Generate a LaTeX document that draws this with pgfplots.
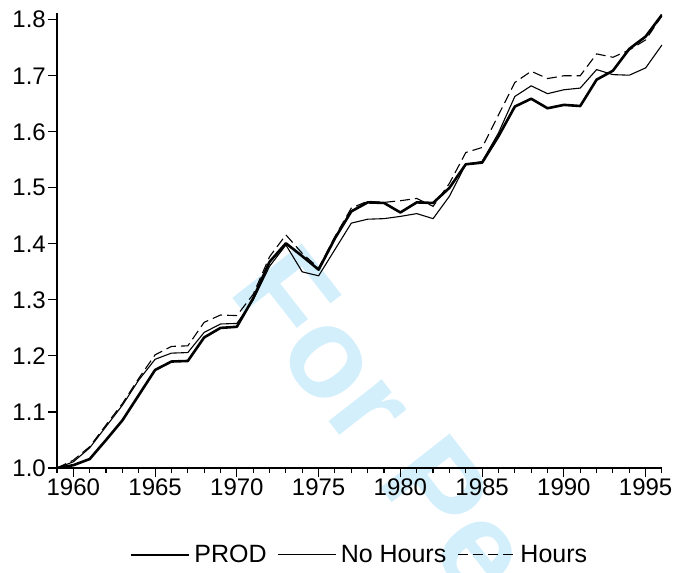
\documentclass[border=0pt]{standalone}
\usepackage{fontspec}
\setmainfont{Liberation Sans}
\usepackage{pgfplots}
\usepackage{pgfplotstable}
\pgfplotsset{compat=1.18}

\definecolor{wm}{RGB}{212,239,252}

% year, PROD, No Hours, Hours
\pgfplotstableread{
year prod nohours hours
1959 1.000 1.000 1.000
1960 1.005 1.011 1.014
1961 1.016 1.036 1.038
1962 1.050 1.074 1.077
1963 1.085 1.112 1.115
1964 1.130 1.157 1.160
1965 1.175 1.194 1.202
1966 1.190 1.205 1.217
1967 1.191 1.206 1.218
1968 1.233 1.242 1.260
1969 1.250 1.257 1.273
1970 1.252 1.258 1.272
1971 1.303 1.300 1.310
1972 1.368 1.360 1.377
1973 1.401 1.398 1.416
1974 1.378 1.350 1.383
1975 1.354 1.343 1.357
1976 1.410 1.390 1.413
1977 1.458 1.437 1.464
1978 1.474 1.444 1.476
1979 1.473 1.445 1.474
1980 1.456 1.449 1.477
1981 1.474 1.454 1.481
1982 1.473 1.445 1.467
1983 1.500 1.485 1.508
1984 1.542 1.542 1.563
1985 1.545 1.547 1.572
1986 1.592 1.598 1.630
1987 1.645 1.663 1.688
1988 1.659 1.682 1.708
1989 1.642 1.668 1.695
1990 1.648 1.675 1.700
1991 1.646 1.678 1.700
1992 1.693 1.711 1.739
1993 1.709 1.702 1.733
1994 1.748 1.701 1.746
1995 1.770 1.714 1.764
1996 1.809 1.755 1.807
}\prodtable

\begin{document}
\begin{tikzpicture}
  % watermark behind everything
  \node[overlay, rotate=-52, anchor=base west, text=wm,
        font=\fontsize{128}{128}\selectfont\bfseries, inner sep=0]
        at (170pt,177pt) {For Peer Review};

  \begin{axis}[
      scale only axis,
      width=605pt, height=455pt,
      xmin=1959, xmax=1996,
      ymin=1.0, ymax=1.812,
      axis lines*=left,
      axis line style={line width=1.5pt},
      tick align=outside,
      xtick pos=bottom, ytick pos=left,
      xtick={1960,1965,...,1995},
      minor xtick={1959,...,1996},
      ytick={1.0,1.1,...,1.8},
      major tick length=9pt,
      minor tick length=5pt,
      every tick/.style={black, line width=1.1pt},
      xticklabel style={/pgf/number format/1000 sep={}},
      yticklabel style={/pgf/number format/.cd, fixed, fixed zerofill, precision=1},
      /pgf/number format/assume math mode=true,
      ticklabel style={font=\fontsize{24}{28}\selectfont, inner sep=2pt},
      legend style={
        at={(axis description cs:0.5,-0.191)}, anchor=center,
        draw=none, fill=none,
        font=\fontsize{25}{29}\selectfont,
        legend columns=3,
        /tikz/every even column/.append style={column sep=9pt},
        /tikz/every odd column/.append style={column sep=2pt},
      },
      legend image code/.code={\draw[#1] (0pt,0pt) -- (58pt,0pt);},
      legend cell align=left,
    ]
    \addplot[black, line width=2.6pt, line join=round] table[x=year, y=prod] {\prodtable};
    \addlegendentry{PROD}
    \addplot[black, line width=1.1pt, line join=round] table[x=year, y=nohours] {\prodtable};
    \addlegendentry{No Hours}
    \addplot[black, line width=1.1pt, dash pattern=on 10pt off 5pt] table[x=year, y=hours] {\prodtable};
    \addlegendentry{Hours}
  \end{axis}
  \pgfresetboundingbox
  \path (-57pt,-105pt) rectangle (621pt,468pt);
\end{tikzpicture}
\end{document}
